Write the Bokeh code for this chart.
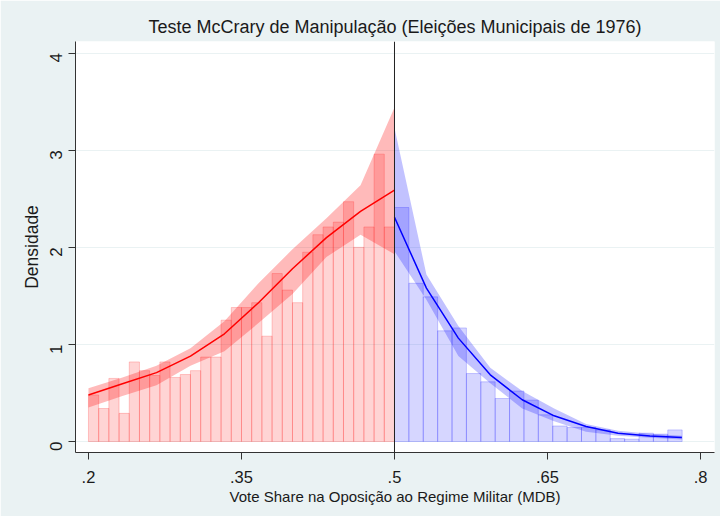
import math
from bokeh.plotting import figure
from bokeh.models import Range1d, FixedTicker, Span
from bokeh.embed import file_html
from bokeh.resources import INLINE

# ---------------- data ----------------
# left of cutoff: histogram bins (width 0.01) from .20 to .50
left_bin_start = 0.20
left_bin_width = 0.01
left_heights = [0.48, 0.34, 0.65, 0.29, 0.82, 0.73, 0.68, 0.82, 0.66, 0.69,
                0.73, 0.87, 0.87, 1.25, 1.38, 1.38, 1.43, 1.085, 1.73, 1.56,
                1.43, 1.95, 2.13, 2.21, 2.26, 2.47, 2.00, 2.21, 2.96, 2.21]

# right of cutoff: histogram bins (width ~0.0141) from .50 to ~.782
right_bin_start = 0.50
right_bin_width = 0.0141
right_heights = [2.41, 1.63, 1.49, 1.14, 1.17, 0.70, 0.615, 0.443, 0.52, 0.426,
                 0.275, 0.16, 0.144, 0.144, 0.12, 0.03, 0.024, 0.086, 0.076, 0.12]

# fitted density and confidence band (left)
left_x = [0.2, 0.2333, 0.2667, 0.3, 0.3333, 0.3667, 0.4, 0.4333, 0.4667, 0.5]
left_fit = [0.48, 0.595, 0.71, 0.88, 1.11, 1.43, 1.78, 2.10, 2.37, 2.59]
left_hi = [0.55, 0.66, 0.78, 0.96, 1.24, 1.63, 1.98, 2.30, 2.64, 3.44]
left_lo = [0.35, 0.47, 0.58, 0.78, 0.93, 1.22, 1.52, 1.90, 2.13, 1.93]

# fitted density and confidence band (right)
right_x = [0.5, 0.5313, 0.5626, 0.5939, 0.6252, 0.6565, 0.6878, 0.7191, 0.7504, 0.7817]
right_fit = [2.31, 1.58, 1.065, 0.687, 0.43, 0.265, 0.155, 0.086, 0.058, 0.041]
right_hi = [3.23, 1.72, 1.19, 0.76, 0.52, 0.34, 0.18, 0.11, 0.08, 0.06]
right_lo = [1.96, 1.46, 0.88, 0.60, 0.34, 0.21, 0.10, 0.06, 0.04, 0.02]

cutoff = 0.5
x_ticks = [0.2, 0.35, 0.5, 0.65, 0.8]
x_tick_labels = [".2", ".35", ".5", ".65", ".8"]
y_ticks = [0, 1, 2, 3, 4]

title = "Teste McCrary de Manipulação (Eleições Municipais de 1976)"
x_title = "Vote Share na Oposição ao Regime Militar (MDB)"
y_title = "Densidade"

# ---------------- figure ----------------
BG = "#EAF2F3"
FONT = "Liberation Sans"

p = figure(width=720, height=516, output_backend="svg", toolbar_location=None,
           x_range=Range1d(0.1873, 0.8137), y_range=Range1d(-0.113, 4.12),
           min_border_left=75, min_border_right=6, min_border_top=41,
           min_border_bottom=64)
p.border_fill_color = BG
p.background_fill_color = "white"
p.outline_line_color = None

p.title.text = title
p.title.align = "center"
p.title.text_font = FONT
p.title.text_font_size = "18px"
p.title.text_font_style = "normal"
p.title.text_color = "#1a1a1a"

# bars
lb_left = [left_bin_start + i * left_bin_width for i in range(len(left_heights))]
lb_right = [v + left_bin_width for v in lb_left]
rb_left = [right_bin_start + i * right_bin_width for i in range(len(right_heights))]
rb_right = [v + right_bin_width for v in rb_left]

p.quad(left=lb_left, right=lb_right, top=left_heights, bottom=0,
       fill_color="red", fill_alpha=0.17, line_color="red", line_alpha=0.2, line_width=1)
p.quad(left=rb_left, right=rb_right, top=right_heights, bottom=0,
       fill_color="blue", fill_alpha=0.16, line_color="blue", line_alpha=0.2, line_width=1)

# bands
p.varea(x=left_x, y1=left_lo, y2=left_hi, fill_color="red", fill_alpha=0.27)
p.varea(x=right_x, y1=right_lo, y2=right_hi, fill_color="blue", fill_alpha=0.24)

# fits
p.line(left_x, left_fit, line_color="red", line_width=1.5)
p.line(right_x, right_fit, line_color="blue", line_width=1.5)

p.add_layout(Span(location=cutoff, dimension="height", line_color="#222222", line_width=1))

# grid
p.xgrid.visible = False
p.ygrid.grid_line_color = BG
p.ygrid.grid_line_width = 1
p.ygrid.ticker = FixedTicker(ticks=y_ticks)

# axes
for ax in (p.xaxis[0], p.yaxis[0]):
    ax.axis_line_color = "#333333"
    ax.major_tick_line_color = "#333333"
    ax.major_tick_in = 0
    ax.major_tick_out = 7
    ax.minor_tick_line_color = None
    ax.major_label_text_font = FONT
    ax.major_label_text_color = "#1a1a1a"
    ax.axis_label_text_font = FONT
    ax.axis_label_text_color = "#1a1a1a"
    ax.axis_label_text_font_style = "normal"

p.xaxis.ticker = FixedTicker(ticks=x_ticks)
p.xaxis.major_label_overrides = {t: s for t, s in zip(x_ticks, x_tick_labels)}
p.xaxis.major_label_text_font_size = "16.5px"
p.xaxis.major_label_standoff = 11
p.xaxis.axis_label = x_title
p.xaxis.axis_label_text_font_size = "15px"
p.xaxis.axis_label_standoff = 2

p.yaxis.ticker = FixedTicker(ticks=y_ticks)
p.yaxis.major_label_orientation = math.pi / 2
p.yaxis.major_label_text_font_size = "17px"
p.yaxis.major_label_standoff = 12
p.yaxis.axis_label = y_title
p.yaxis.axis_label_text_font_size = "17.5px"
p.yaxis.axis_label_standoff = 0

open("out.html", "w").write(file_html(p, INLINE))
